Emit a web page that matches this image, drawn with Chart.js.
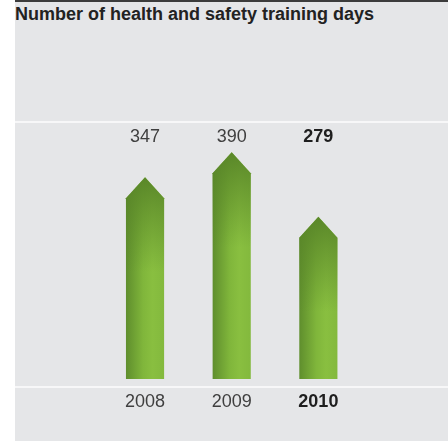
<!DOCTYPE html>
<html>
<head>
<meta charset="utf-8">
<script src="https://cdn.jsdelivr.net/npm/chart.js@4/dist/chart.umd.min.js"></script>
<style>
  html, body { margin: 0; padding: 0; background: #ffffff; }
  #wrap { position: relative; width: 448px; height: 441px; overflow: hidden; }
  #panel {
    position: absolute; left: 15px; top: 0; width: 433px; height: 441px;
    background: #e5e6e8; border-top: 2px solid #3c3c3c; box-sizing: border-box;
  }
  #judul {
    position: absolute; left: 15px; top: 4px;
    font: bold 18px "Liberation Sans", Arial, sans-serif; color: #222222;
    white-space: nowrap;
  }
  .garis { position: absolute; left: 15px; width: 433px; height: 2px; background: #f7f7f8; }
  #grafik { position: absolute; left: 0; top: 0; }
</style>
</head>
<body>
<div id="wrap">
  <div id="panel"></div>
  <div id="judul">Number of health and safety training days</div>
  <div class="garis" style="top:121px"></div>
  <div class="garis" style="top:386px"></div>
  <canvas id="grafik" width="448" height="441"></canvas>
</div>
<script>
// Data grafik
const tahun = ['2008', '2009', '2010'];
const hariPelatihan = [347, 390, 279];
const tahunTebal = [false, false, true]; // tahun terakhir dicetak tebal

// Plugin untuk menggambar batang berbentuk panah dan label teks
const panahBatang = {
  id: 'panahBatang',
  afterDatasetsDraw(chart) {
    const ctx = chart.ctx;
    const meta = chart.getDatasetMeta(0);
    meta.data.forEach((bar, i) => {
      const p = bar.getProps(['x', 'y', 'base', 'width'], true);
      const kiri = p.x - p.width / 2;
      const kanan = p.x + p.width / 2;
      const bahu = p.y + p.width / 2 * 1.1;

      ctx.save();
      ctx.beginPath();
      ctx.moveTo(kiri, p.base);
      ctx.lineTo(kiri, bahu);
      ctx.lineTo(p.x, p.y);
      ctx.lineTo(kanan, bahu);
      ctx.lineTo(kanan, p.base);
      ctx.closePath();

      // gradasi mendatar: tepi kiri gelap, tengah-kanan terang
      const gH = ctx.createLinearGradient(kiri, 0, kanan, 0);
      gH.addColorStop(0, '#5f8e2d');
      gH.addColorStop(0.45, '#80b63b');
      gH.addColorStop(0.7, '#89bf40');
      gH.addColorStop(1, '#83b93d');
      ctx.fillStyle = gH;
      ctx.fill();

      // bayangan di bagian ujung atas
      const gV = ctx.createLinearGradient(0, p.y, 0, p.y + 95);
      gV.addColorStop(0, 'rgba(88,133,40,0.95)');
      gV.addColorStop(0.35, 'rgba(88,133,40,0.6)');
      gV.addColorStop(1, 'rgba(88,133,40,0)');
      ctx.fillStyle = gV;
      ctx.fill();
      ctx.restore();

      // label nilai dan tahun
      ctx.save();
      ctx.textAlign = 'center';
      ctx.textBaseline = 'middle';
      const tebal = tahunTebal[i];
      ctx.fillStyle = tebal ? '#1e1e1e' : '#3f3f3f';
      ctx.font = (tebal ? 'bold ' : '') + '18px "Liberation Sans", Arial, sans-serif';
      ctx.fillText(String(hariPelatihan[i]), p.x, 137);
      ctx.fillText(tahun[i], p.x, 402);
      ctx.restore();
    });
  }
};

const ctx = document.getElementById('grafik').getContext('2d');
new Chart(ctx, {
  type: 'bar',
  data: {
    labels: tahun,
    datasets: [{
      data: hariPelatihan,
      backgroundColor: 'rgba(0,0,0,0)',
      borderWidth: 0,
      barPercentage: 0.44,
      categoryPercentage: 1
    }]
  },
  options: {
    responsive: false,
    animation: false,
    devicePixelRatio: 1,
    layout: { padding: { top: 123.2, bottom: 62, left: 101.7, right: 86.3 } },
    scales: {
      x: { display: false },
      y: { display: false, min: 0, max: 440 }
    },
    plugins: {
      legend: { display: false },
      tooltip: { enabled: false }
    }
  },
  plugins: [panahBatang]
});
</script>
</body>
</html>
